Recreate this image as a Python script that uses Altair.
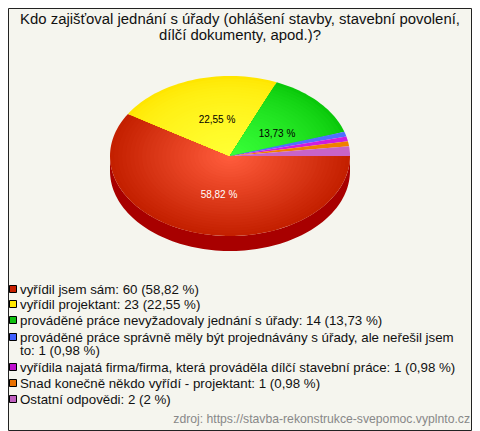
import math
import altair as alt

# ---- data ----
labels = ["vyřídil jsem sám", "vyřídil projektant", "prováděné práce nevyžadovaly jednání s úřady",
          "prováděné práce správně měly být projednávány s úřady, ale neřešil jsem to",
          "vyřídila najatá firma/firma, která prováděla dílčí stavební práce",
          "Snad konečně někdo vyřídí - projektant", "Ostatní odpovědi"]
values = [60, 23, 14, 1, 1, 1, 2]
edge_colors = ["#c42000", "#ffe600", "#0ac80a", "#4f6fff", "#d01ce0", "#f08000", "#c864c8"]
core_colors = ["#ff5c3c", "#ffff33", "#38ff38", "#4f6fff", "#d01ce0", "#f08000", "#c864c8"]
shade_curve = [1.0, 0.6, 0.7, 1.0, 1.0, 1.0, 1.0]
swatch_colors = ["#c82000", "#ffe800", "#10c010", "#4060ff", "#c010d0", "#e87000", "#c060c0"]
legend_lines = ["vyřídil jsem sám: 60 (58,82 %)", "vyřídil projektant: 23 (22,55 %)",
                "prováděné práce nevyžadovaly jednání s úřady: 14 (13,73 %)",
                "prováděné práce správně měly být projednávány s úřady, ale neřešil jsem\nto: 1 (0,98 %)",
                "vyřídila najatá firma/firma, která prováděla dílčí stavební práce: 1 (0,98 %)",
                "Snad konečně někdo vyřídí - projektant: 1 (0,98 %)",
                "Ostatní odpovědi: 2 (2 %)"]
legend_y = [290, 305, 321, 338, 368, 384, 400]
swatch_y = [289, 304, 320, 337, 367, 383, 399]
title_lines = ["Kdo zajišťoval jednání s úřady (ohlášení stavby, stavební povolení,", "dílčí dokumenty, apod.)?"]
source = "zdroj: https://stavba-rekonstrukce-svepomoc.vyplnto.cz"
pie_labels = ["58,82 %", "22,55 %", "13,73 %"]
pie_label_colors = ["#ffffff", "#000000", "#000000"]
pie_label_pos = [(219, 195), (217, 120), (277, 134)]

# ---- layout ----
OFF = 8                # page margin
W, H = 464, 423
CX, CY, RX, RY, DEPTH = 230 - OFF, 156 - OFF, 120, 80, 15
BG = "#f5f5ee"
STEPS = 30


def rim(a0, a1, scale=1.0, dy=0.0):
    n = max(2, int(abs(a1 - a0) / 2) + 2)
    pts = []
    for i in range(n):
        a = math.radians(a0 + (a1 - a0) * i / (n - 1))
        pts.append([CX + RX * scale * math.cos(a), CY + dy + RY * scale * math.sin(a)])
    return pts


def mix(c0, c1, t):
    p = [int(c0[i:i + 2], 16) for i in (1, 3, 5)]
    q = [int(c1[i:i + 2], 16) for i in (1, 3, 5)]
    return "#%02x%02x%02x" % tuple(round(a + (b - a) * t) for a, b in zip(p, q))


def feature(ring, fill):
    ring = ring + [ring[0]]
    return {"type": "Feature", "geometry": {"type": "Polygon", "coordinates": [ring]},
            "properties": {"fill": fill}}


features = []
total = sum(values)
# the wall of the pie: only the front half of the rim is visible
wall = rim(0, 180) + rim(180, 0, dy=DEPTH)
features.append(feature(wall, "#a80000"))
# slices, clockwise from 3 o'clock, shaded from the rim to the centre
start = 0.0
for v, edge, core, curve in zip(values, edge_colors, core_colors, shade_curve):
    sweep = 360.0 * v / total
    steps = STEPS if edge != core else 1
    for k in range(steps):
        s = 1 - k / steps
        t = k / max(1, steps - 1)
        features.append(feature([[CX, CY]] + rim(start, start + sweep, s), mix(edge, core, t ** curve)))
    start += sweep

pie = alt.Chart(alt.Data(values=features)).mark_geoshape(stroke=None, strokeWidth=0).encode(
    fill=alt.Fill("properties.fill:N", scale=None, legend=None)
).project(type="identity", scale=1, translate=[0, 0])

px = alt.X("x:Q", scale=None, axis=None)
py = alt.Y("y:Q", scale=None, axis=None)


def text_layer(rows, **kw):
    return alt.Chart(alt.Data(values=rows)).mark_text(font="Liberation Sans", **kw).encode(
        x=px, y=py, text="t:N", color=alt.Color("c:N", scale=None, legend=None))


pie_text = text_layer(
    [{"x": x - OFF, "y": y - OFF, "t": t, "c": c} for t, c, (x, y) in zip(pie_labels, pie_label_colors, pie_label_pos)],
    fontSize=10, align="center", baseline="middle")

title_text = text_layer(
    [{"x": 240 - OFF, "y": y - OFF, "t": t, "c": "#111111"} for t, y in zip(title_lines, [20, 36])],
    fontSize=14.9, align="center", baseline="middle")

legend_text = text_layer(
    [{"x": 20 - OFF, "y": y - OFF, "t": t, "c": "#111111"} for t, y in zip(legend_lines, legend_y)],
    fontSize=13.3, align="left", baseline="middle", lineBreak="\n", lineHeight=13)

source_text = text_layer(
    [{"x": 470 - OFF, "y": 419 - OFF, "t": source, "c": "#888888"}],
    fontSize=12.2, align="right", baseline="middle")

swatches = alt.Chart(alt.Data(values=[
    {"x": 13 - OFF, "y": y - OFF, "c": c} for y, c in zip(swatch_y, swatch_colors)
])).mark_square(size=49, filled=True, stroke="#000000", strokeWidth=1, opacity=1).encode(
    x=px, y=py, fill=alt.Fill("c:N", scale=None, legend=None))

frame = alt.Chart(alt.Data(values=[{"x": 0.5, "x2": W - 0.5, "y": 0.5, "y2": H - 0.5}])).mark_rect(
    fillOpacity=0, stroke="#222222", strokeWidth=1).encode(
    x=px, x2="x2:Q", y=py, y2="y2:Q")

chart = alt.layer(pie, pie_text, title_text, legend_text, source_text, swatches, frame).properties(
    width=W, height=H, background=BG, padding=0,
    autosize=alt.AutoSizeParams(type="none"),
).configure_view(stroke=None)

chart.save("out.html", embed_options={"renderer": "svg", "actions": False})
